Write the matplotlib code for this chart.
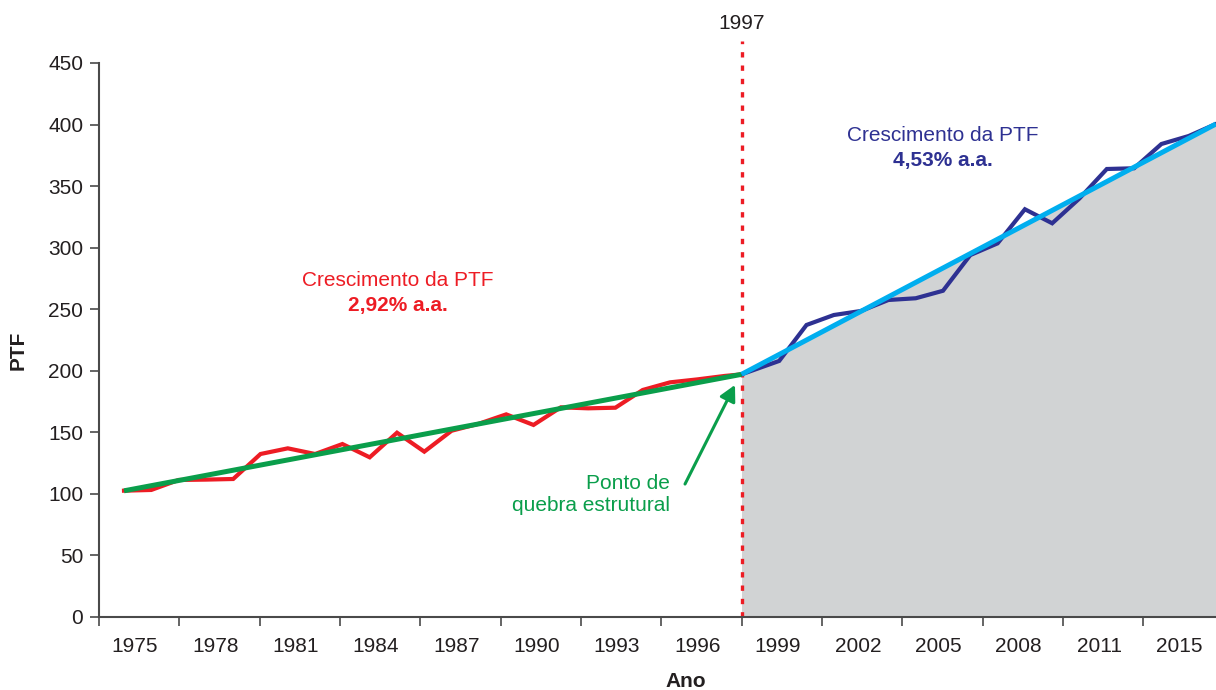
import numpy as np
import matplotlib
matplotlib.use("Agg")
import matplotlib.pyplot as plt
import matplotlib.transforms as mtransforms

plt.rcParams['font.family'] = ['Liberation Sans', 'DejaVu Sans']

# ---------------- data ----------------
red_years = list(range(1975, 1998))
red_values = [102.6, 103.2, 111.3, 111.6, 112.1, 132.4, 137.0, 132.4, 140.5, 129.7,
              149.7, 134.3, 151.3, 157.0, 164.6, 156.0, 170.3, 169.5, 170.0, 184.4,
              190.6, 193.0, 195.8]
blue_years = list(range(1998, 2016))
blue_values = [200.1, 208.0, 237.2, 245.3, 248.6, 257.5, 258.9, 265.0, 294.0, 303.5,
               331.2, 319.8, 340.0, 363.9, 364.5, 384.2, 390.7, 400.5]
break_year = 1997.62
break_value = 197.1
green_trend_x = [1975, break_year]
green_trend_y = [102.5, 197.1]
blue_trend_x = [break_year, 2015]
blue_trend_y = [197.1, 400.5]

tick_labels = ['1975', '1978', '1981', '1984', '1987', '1990', '1993', '1996',
               '1999', '2002', '2005', '2008', '2011', '2015']
y_ticks = list(range(0, 451, 50))

# ---------------- colours ----------------
RED = '#ED1C24'
GREEN = '#0A9E4B'
NAVY = '#2E3192'
LBLUE = '#00AEEF'
GRAY = '#D1D3D4'
AXC = '#4A4A4A'
TXT = '#231F20'

fig = plt.figure(figsize=(12.16, 6.90), dpi=100)
ax = fig.add_axes([99/1216, 73/690, 1117/1216, 554/690])

x0 = 1974.084
step = 2.9426
edges = x0 + step * np.arange(14)
mids = x0 + step * (np.arange(14) + 0.5) - 0.15

ax.set_xlim(x0, 2015.0)
ax.set_ylim(0, 450)

# gray fill under post-break trend
ax.fill_between(blue_trend_x, blue_trend_y, 0, color=GRAY, lw=0, zorder=1)

# break line
ax.axvline(break_year, ymin=0, ymax=1.04, color=RED, lw=2.4, dashes=(1.6, 2.4),
           clip_on=False, zorder=2)
trans = mtransforms.blended_transform_factory(ax.transData, ax.transAxes)
ax.text(break_year, 1.071, '1997', transform=trans, ha='center', va='center',
        fontsize=15, color=TXT)

# series
ax.plot(red_years + [break_year], red_values + [break_value], color=RED, lw=3.0,
        solid_joinstyle='miter', zorder=3)
ax.plot([break_year] + blue_years, [break_value] + blue_values, color=NAVY, lw=3.0,
        solid_joinstyle='miter', zorder=3, clip_on=False)
ax.plot(green_trend_x, green_trend_y, color=GREEN, lw=3.6, zorder=4,
        solid_capstyle='butt')
ax.plot(blue_trend_x, blue_trend_y, color=LBLUE, lw=3.6, zorder=4,
        solid_capstyle='butt')

# annotations
ax.text(1985.04, 273.7, 'Crescimento da PTF', color=RED, fontsize=15,
        ha='center', va='center')
ax.text(1985.04, 253.4, '2,92% a.a.', color=RED, fontsize=15, fontweight='bold',
        ha='center', va='center')
ax.text(2005.0, 391.5, 'Crescimento da PTF', color=NAVY, fontsize=15,
        ha='center', va='center')
ax.text(2005.0, 371.2, '4,53% a.a.', color=NAVY, fontsize=15, fontweight='bold',
        ha='center', va='center')
ax.text(1995.0, 99.5, 'Ponto de\nquebra estrutural', color=GREEN, fontsize=15,
        ha='right', va='center', multialignment='right', linespacing=1.15)
ax.annotate('', xy=(1997.38, 188.5), xytext=(1995.55, 108),
            arrowprops=dict(arrowstyle='-|>,head_length=0.95,head_width=0.5',
                            color=GREEN, lw=2.2, shrinkA=0, shrinkB=0))

# axes styling
for s in ['top', 'right']:
    ax.spines[s].set_visible(False)
for s in ['left', 'bottom']:
    ax.spines[s].set_color(AXC)
    ax.spines[s].set_linewidth(1.5)

ax.set_yticks(y_ticks)
ax.tick_params(axis='y', direction='out', length=6.8, width=1.2, color=AXC,
               labelsize=15, labelcolor=TXT, pad=4.5)

ax.set_xticks(edges)
ax.set_xticklabels([])
ax.set_xticks(mids, minor=True)
ax.set_xticklabels(tick_labels, minor=True)
ax.tick_params(axis='x', which='major', direction='out', length=6.5, width=1.2,
               color=AXC)
ax.tick_params(axis='x', which='minor', length=0, labelsize=15, labelcolor=TXT,
               pad=14.5)

ax.set_xlabel('Ano', fontsize=15, fontweight='bold', color=TXT)
ax.xaxis.set_label_coords((686 - 99) / 1117, -0.099)
ax.set_ylabel('PTF', fontsize=15, fontweight='bold', color=TXT)
ax.yaxis.set_label_coords(-0.0636, 0.482)

fig.savefig('out.png', dpi=100)
